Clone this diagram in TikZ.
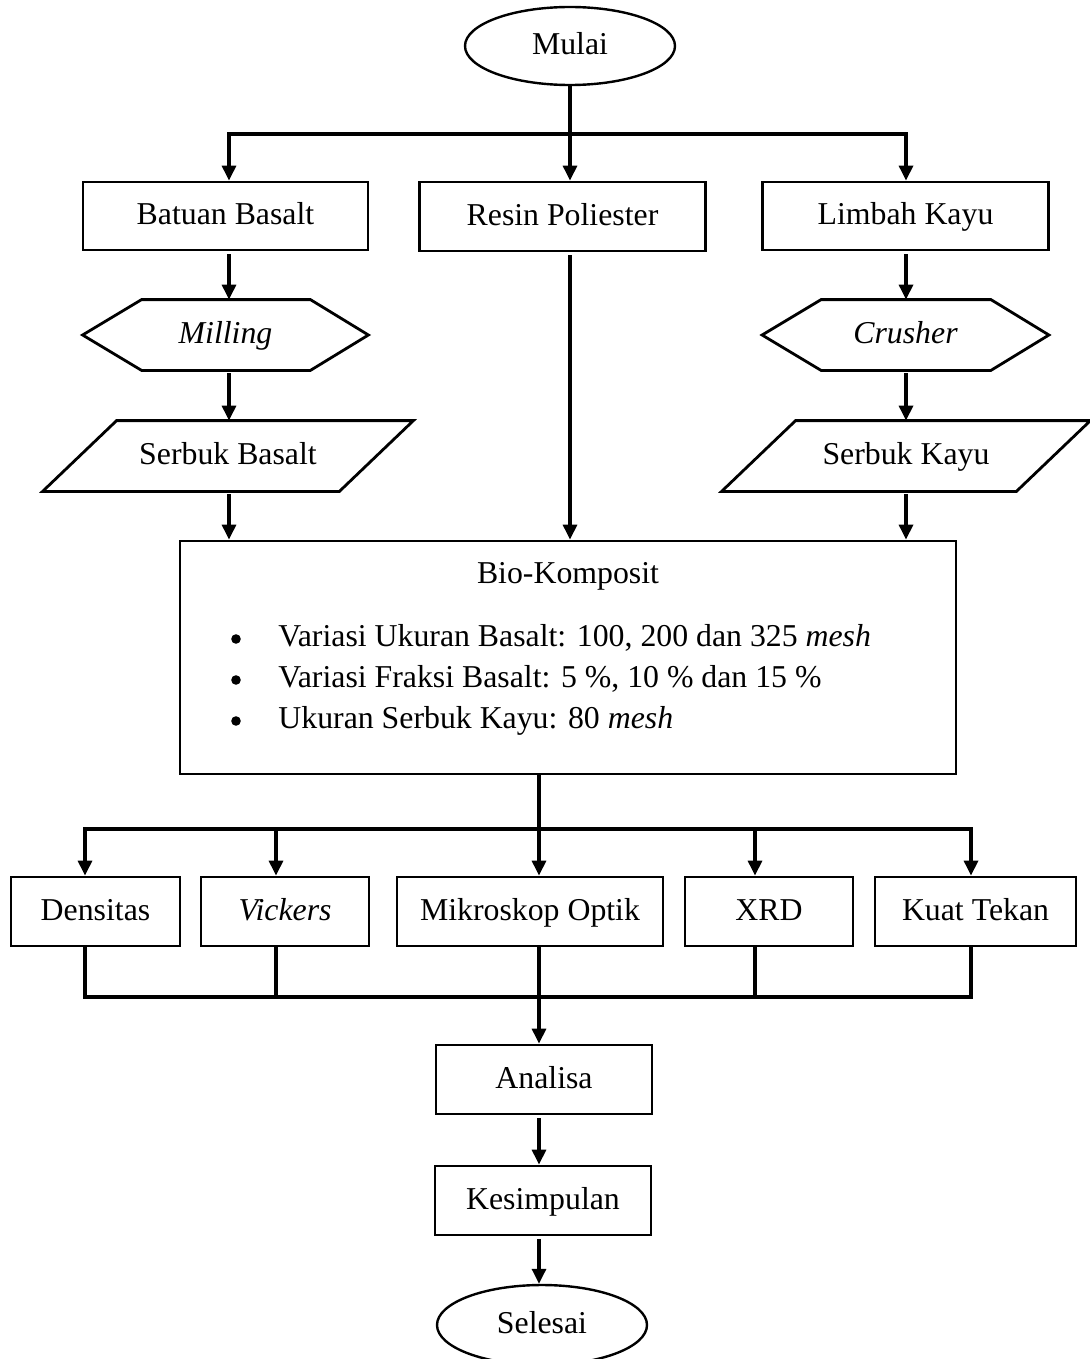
\documentclass[tikz,border=0pt]{standalone}
\usepackage{fontspec}
\setmainfont{Liberation Serif}
\usetikzlibrary{arrows.meta,shapes.geometric}
\begin{document}
\begin{tikzpicture}[x=0.5pt,y=-0.5pt,
  every node/.style={font=\fontsize{15.9}{19}\selectfont, text height=12pt, text depth=3.5pt, inner sep=0pt},
  box/.style={draw, line width=1.4pt, rectangle},
  ov/.style={draw, line width=1.2pt, ellipse},
  shp/.style={draw=none, rectangle},
  outl/.style={line width=1.4pt, line join=miter},
  ln/.style={line width=1.6pt},
  bar/.style={line width=2pt, line cap=rect},
  arr/.style={ln, -{Triangle[length=7.5pt,width=7pt]}},
  arrg/.style={arr, shorten <=1.5pt},
  dot/.style={circle, fill, draw=none, inner sep=0pt, minimum size=4.8pt, text height=, text depth=},
]
\useasboundingbox (0,0) rectangle (1089,1359);

% top
\node[ov, minimum width=105pt, minimum height=39pt] (mulai) at (570,46) {Mulai};
\node[box, minimum width=142.5pt, minimum height=34pt] (bat) at (225.5,216) {Batuan Basalt};
\node[box, minimum width=143pt, minimum height=34.5pt] (res) at (562.5,216.5) {Resin Poliester};
\node[box, minimum width=143pt, minimum height=34pt] (lim) at (905.5,216) {Limbah Kayu};

% hexagons
\node[shp, minimum width=142.5pt, minimum height=35pt] (mill) at (225.5,335) {\itshape Milling};
\draw[outl] (mill.west) -- ([xshift=29.5pt]mill.north west) -- ([xshift=-29pt]mill.north east) -- (mill.east) -- ([xshift=-29pt]mill.south east) -- ([xshift=29.5pt]mill.south west) -- cycle;
\node[shp, minimum width=143pt, minimum height=35pt] (crush) at (905.5,335) {\itshape Crusher};
\draw[outl] (crush.west) -- ([xshift=29.5pt]crush.north west) -- ([xshift=-29pt]crush.north east) -- (crush.east) -- ([xshift=-29pt]crush.south east) -- ([xshift=29.5pt]crush.south west) -- cycle;

% parallelograms
\node[shp, minimum width=185pt, minimum height=35pt] (sb) at (228,456) {Serbuk Basalt};
\draw[outl] (sb.south west) -- ([xshift=37pt]sb.north west) -- (sb.north east) -- ([xshift=-37pt]sb.south east) -- cycle;
\node[shp, minimum width=184pt, minimum height=35pt] (sk) at (906,456) {Serbuk Kayu};
\draw[outl] (sk.south west) -- ([xshift=37pt]sk.north west) -- (sk.north east) -- ([xshift=-37pt]sk.south east) -- cycle;

% bio-komposit
\node[box, minimum width=388pt, minimum height=116.5pt] (bio) at (568,657.5) {};
\node (biot) at (568,575) {Bio-Komposit};
\node[dot] (bu1) at (236,639) {};
\node[dot] (bu2) at (236,680) {};
\node[dot] (bu3) at (236,721) {};
\node[anchor=west] (bl1) at (278,638) {Variasi Ukuran Basalt: 100, 200 dan 325 \textit{mesh}};
\node[anchor=west] (bl2) at (278,679) {Variasi Fraksi Basalt: 5 \%, 10 \% dan 15 \%};
\node[anchor=west] (bl3) at (278,720) {Ukuran Serbuk Kayu: 80 \textit{mesh}};

% tests
\node[box, minimum width=84.5pt, minimum height=34.5pt] (dens) at (95.5,911.5) {Densitas};
\node[box, minimum width=84pt, minimum height=34.5pt] (vick) at (285,911.5) {\itshape Vickers};
\node[box, minimum width=133pt, minimum height=34.5pt] (mik) at (530,911.5) {Mikroskop Optik};
\node[box, minimum width=84pt, minimum height=34.5pt] (xrd) at (769,911.5) {XRD};
\node[box, minimum width=100.5pt, minimum height=34.5pt] (kuat) at (975.5,911.5) {Kuat Tekan};

% bottom
\node[box, minimum width=108pt, minimum height=34.5pt] (ana) at (544,1079.5) {Analisa};
\node[box, minimum width=108pt, minimum height=34.5pt] (kes) at (543,1200.5) {Kesimpulan};
\node[ov, minimum width=105pt, minimum height=40pt] (sel) at (542,1325) {Selesai};

% connectors top
\coordinate (t0) at (570,134);
\coordinate (tl) at (229,134);
\coordinate (tr) at (906,134);
\draw[ln] (mulai.south) -- (t0);
\draw[bar] (tl) -- (tr);
\draw[arr] (tl) -- (tl |- bat.north);
\draw[arr] (t0) -- (t0 |- res.north);
\draw[arr] (tr) -- (tr |- lim.north);
\draw[arrg] (bat.south -| tl) -- (mill.north -| tl);
\draw[arrg] (mill.south -| tl) -- (sb.north -| tl);
\draw[arrg] (sb.south -| tl) -- (bio.north -| tl);
\draw[arrg] (res.south -| t0) -- (bio.north -| t0);
\draw[arrg] (lim.south -| tr) -- (crush.north -| tr);
\draw[arrg] (crush.south -| tr) -- (sk.north -| tr);
\draw[arrg] (sk.south -| tr) -- (bio.north -| tr);

% connectors middle
\coordinate (m0) at (539,829);
\coordinate (ml) at (85,829);
\coordinate (m1) at (276,829);
\coordinate (m3) at (755,829);
\coordinate (mr) at (971,829);
\draw[ln] (bio.south -| m0) -- (m0);
\draw[bar] (ml) -- (mr);
\draw[arr] (ml) -- (ml |- dens.north);
\draw[arr] (m1) -- (m1 |- vick.north);
\draw[arr] (m0) -- (m0 |- mik.north);
\draw[arr] (m3) -- (m3 |- xrd.north);
\draw[arr] (mr) -- (mr |- kuat.north);

% connectors lower
\coordinate (b0) at (539,997);
\coordinate (bl) at (85,997);
\coordinate (b1) at (276,997);
\coordinate (b3) at (755,997);
\coordinate (br) at (971,997);
\draw[ln] (dens.south -| bl) -- (bl);
\draw[ln] (vick.south -| b1) -- (b1);
\draw[ln] (mik.south -| b0) -- (b0);
\draw[ln] (xrd.south -| b3) -- (b3);
\draw[ln] (kuat.south -| br) -- (br);
\draw[bar] (bl) -- (br);
\draw[arr] (b0) -- (ana.north -| b0);
\draw[arrg] (ana.south -| b0) -- (kes.north -| b0);
\draw[arrg] (kes.south -| b0) -- (sel.north -| b0);
\end{tikzpicture}
\end{document}
